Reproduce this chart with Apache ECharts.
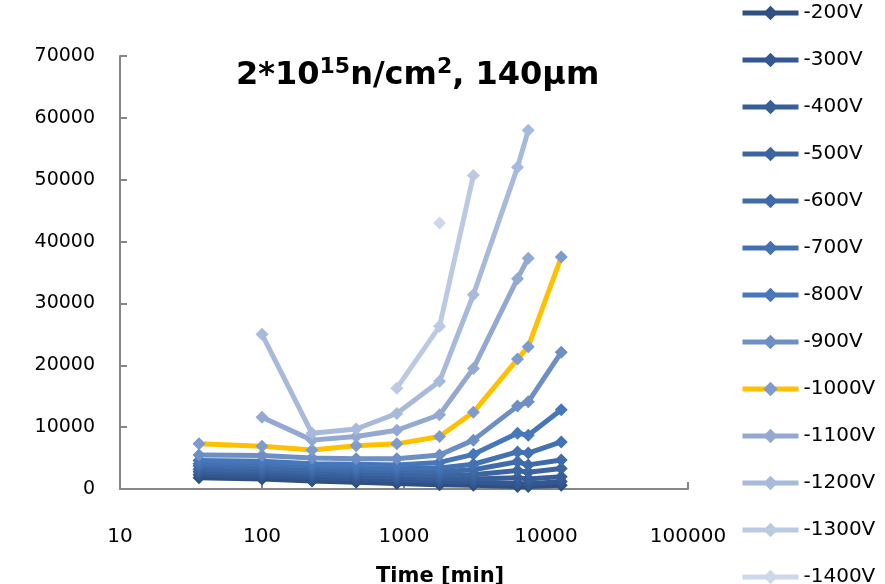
<!DOCTYPE html>
<html>
<head>
<meta charset="utf-8">
<script src="https://cdn.jsdelivr.net/npm/echarts@6/dist/echarts.min.js"></script>
<style>
  html, body { margin: 0; padding: 0; background: #fff; }
  #chart { width: 885px; height: 584px; }
</style>
</head>
<body>
<div id="chart"></div>
<script>
// time points [min]
var times = [36, 100, 225, 460, 890, 1780, 3080, 6300, 7500, 12800];
var voltages = ['-200V', '-300V', '-400V', '-500V', '-600V', '-700V', '-800V',
                '-900V', '-1000V', '-1100V', '-1200V', '-1300V', '-1400V'];

var v200  = [1800, 1600, 1300, 1100, 900, 700, 600, 400, 400, 600];
var v300  = [2300, 2100, 1800, 1600, 1400, 1200, 1100, 900, 800, 1200];
var v400  = [2800, 2600, 2300, 2100, 1900, 1700, 1600, 1800, 1600, 2000];
var v500  = [3200, 3000, 2800, 2600, 2400, 2200, 2300, 3000, 2700, 3300];
var v600  = [3700, 3500, 3200, 3000, 2900, 2800, 3100, 4400, 3900, 4700];
var v700  = [4100, 4000, 3700, 3500, 3400, 3400, 4000, 6000, 5800, 7600];
var v800  = [4600, 4500, 4100, 4000, 3900, 4300, 5600, 9000, 8700, 12800];
var v900  = [5500, 5400, 5000, 4900, 4900, 5500, 7900, 13400, 14100, 22100];
var v1000 = [7300, 6900, 6300, 7000, 7300, 8500, 12400, 21000, 23000, 37500];
var v1100 = [null, 11600, 7900, 8500, 9500, 12000, 19500, 34000, 37300, null];
var v1200 = [null, 25000, 9000, 9700, 12200, 17400, 31400, 52000, 58000, null];
var v1300 = [null, null, null, null, 16300, 26300, 50700, null, null, null];
var v1400 = [null, null, null, null, null, 43000, null, null, null, null];

var yTicks = [0, 10000, 20000, 30000, 40000, 50000, 60000, 70000];

var allValues = [v200, v300, v400, v500, v600, v700, v800, v900, v1000, v1100, v1200, v1300, v1400];
var markerColors = ['#2f5080', '#335790', '#375e98', '#3b64a1', '#3f6ba9', '#4371b2', '#4777bb',
                    '#6e8fc4', '#7f9bcb', '#93a9d1', '#a8badb', '#bcc9e2', '#cfd8ea'];
var lineColors = markerColors.slice();
lineColors[8] = '#ffc000';

function pairs(vals) {
  var out = [];
  for (var i = 0; i < vals.length; i++) {
    if (vals[i] != null) out.push([times[i], vals[i]]);
  }
  return out;
}

var series = voltages.map(function (name, i) {
  return {
    name: name,
    type: 'line',
    data: pairs(allValues[i]),
    symbol: 'diamond',
    symbolSize: 13,
    showSymbol: true,
    lineStyle: { width: 5, color: lineColors[i] },
    itemStyle: { color: markerColors[i] },
    emphasis: { disabled: true },
    animation: false
  };
});

var font = 'DejaVu Sans';

// title pieces: main text + superscripts, laid out left to right
var titleParts = [
  ['2*10', false], ['15', true], ['n/cm', false], ['2', true], [', 140µm', false]
];
function titleGraphics(x0) {
  var ctx = document.createElement('canvas').getContext('2d');
  var out = [];
  var x = x0;
  titleParts.forEach(function (p) {
    var size = p[1] ? 22 : 32;
    ctx.font = 'bold ' + size + 'px "' + font + '"';
    out.push({
      type: 'text',
      x: x,
      y: p[1] ? 56 : 60,
      style: { text: p[0], font: 'bold ' + size + 'px "' + font + '"', fill: '#000', verticalAlign: 'top' }
    });
    x += ctx.measureText(p[0]).width;
  });
  return out;
}

var chart = echarts.init(document.getElementById('chart'));
chart.setOption({
  animation: false,
  textStyle: { fontFamily: font },
  grid: { left: 120, right: 197, top: 56, bottom: 95 },
  legend: {
    orient: 'vertical',
    left: 740,
    top: 3,
    height: 800,
    padding: 0,
    itemWidth: 56,
    itemHeight: 18,
    itemGap: 27,
    data: voltages,
    lineStyle: { width: 5 },
    textStyle: { fontFamily: font, fontSize: 20, color: '#000' }
  },
  xAxis: {
    type: 'log',
    logBase: 10,
    min: 10,
    max: 100000,
    axisLine: { lineStyle: { color: '#868686', width: 2 } },
    axisTick: { inside: true, length: 7, lineStyle: { color: '#868686', width: 2 } },
    minorTick: { show: false },
    splitLine: { show: false },
    axisLabel: {
      margin: 38, fontSize: 20, color: '#000', fontFamily: font,
      formatter: function (v) { return String(Math.round(v)); }
    }
  },
  yAxis: {
    type: 'value',
    min: yTicks[0],
    max: yTicks[yTicks.length - 1],
    interval: 10000,
    axisLine: { show: true, lineStyle: { color: '#868686', width: 2 } },
    axisTick: { show: true, inside: true, length: 7, lineStyle: { color: '#868686', width: 2 } },
    splitLine: { show: false },
    axisLabel: {
      margin: 25, fontSize: 19, color: '#000', fontFamily: font,
      formatter: function (v) { return String(v); }
    }
  },
  graphic: titleGraphics(236).concat([{
    type: 'text',
    left: 376,
    top: 566,
    style: { text: 'Time [min]', fontFamily: font, fontWeight: 'bold', fontSize: 21, fill: '#000' }
  }]),
  series: series
});
</script>
</body>
</html>
